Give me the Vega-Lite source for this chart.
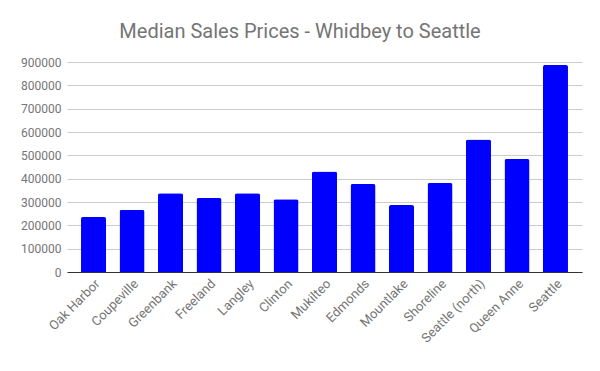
{
  "$schema": "https://vega.github.io/schema/vega-lite/v6.json",
  "width": 515,
  "height": 210,
  "autosize": "none",
  "padding": {"left": 67, "top": 62, "right": 18, "bottom": 99},
  "background": "white",
  "title": {
    "text": "Median Sales Prices - Whidbey to Seattle",
    "font": "Roboto",
    "fontSize": 20,
    "fontWeight": "normal",
    "color": "#757575",
    "anchor": "middle",
    "frame": "group",
    "baseline": "alphabetic",
    "offset": -2,
    "dx": -24.5
  },
  "data": {
    "values": [
      {"city": "Oak Harbor", "price": 236000},
      {"city": "Coupeville", "price": 266000},
      {"city": "Greenbank", "price": 337000},
      {"city": "Freeland", "price": 317000},
      {"city": "Langley", "price": 338000},
      {"city": "Clinton", "price": 312000},
      {"city": "Mukilteo", "price": 431000},
      {"city": "Edmonds", "price": 377000},
      {"city": "Mountlake", "price": 287000},
      {"city": "Shoreline", "price": 381000},
      {"city": "Seattle (north)", "price": 568000},
      {"city": "Queen Anne", "price": 484000},
      {"city": "Seattle", "price": 887000}
    ]
  },
  "mark": {"type": "bar", "color": "#0000ff", "cornerRadiusTopLeft": 2, "cornerRadiusTopRight": 2},
  "encoding": {
    "x": {
      "field": "city",
      "type": "nominal",
      "sort": null,
      "title": null,
      "scale": {"paddingInner": 0.35, "paddingOuter": 0.364},
      "axis": {
        "labelAngle": -45,
        "labelFont": "Roboto",
        "labelFontSize": 13,
        "labelColor": "#757575",
        "ticks": false,
        "domainColor": "#333333",
        "domainWidth": 1,
        "labelPadding": 5,
        "zindex": 1
      }
    },
    "y": {
      "field": "price",
      "type": "quantitative",
      "title": null,
      "scale": {"domain": [0, 900000], "nice": false},
      "axis": {
        "values": [0, 100000, 200000, 300000, 400000, 500000, 600000, 700000, 800000, 900000],
        "format": "d",
        "labelFont": "Roboto",
        "labelFontSize": 12,
        "labelColor": "#757575",
        "ticks": false,
        "domain": false,
        "gridColor": "#cccccc",
        "labelPadding": 6
      }
    }
  },
  "config": {"view": {"stroke": null}}
}
